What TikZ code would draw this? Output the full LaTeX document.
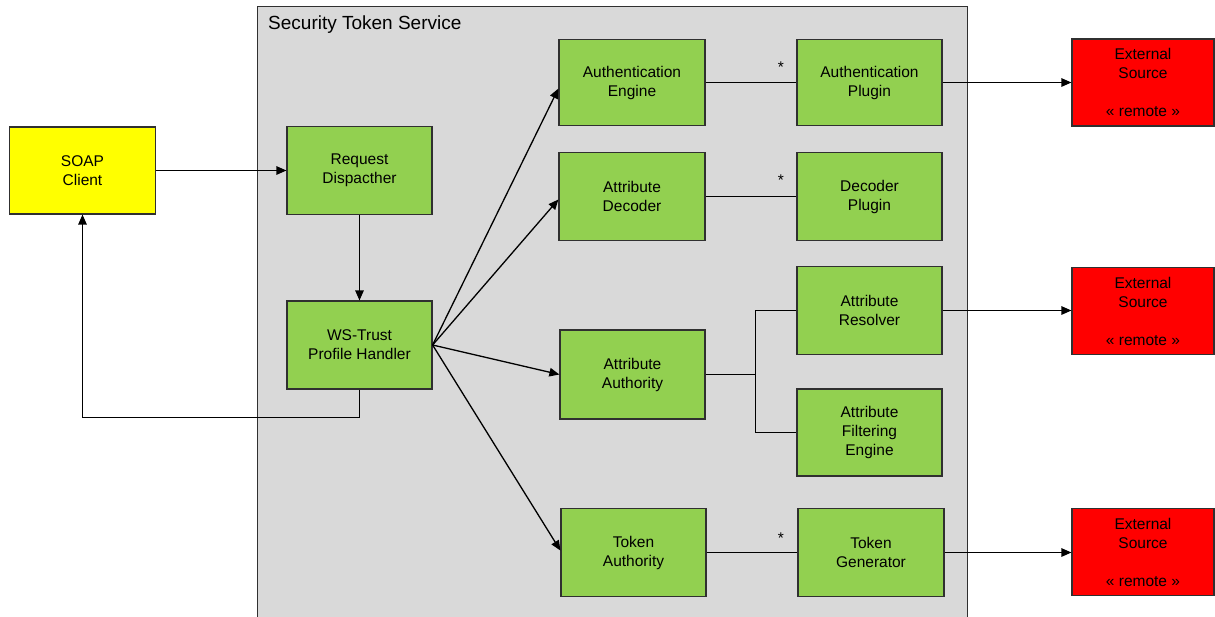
\documentclass[tikz,border=0pt]{standalone}
\usepackage{fontspec}
\setmainfont{Liberation Sans}
\usetikzlibrary{arrows.meta}
\definecolor{boxgreen}{HTML}{92D050}
\definecolor{boxyellow}{HTML}{FFFF00}
\definecolor{boxred}{HTML}{FF0000}
\definecolor{svcgray}{HTML}{D9D9D9}
\definecolor{edge}{HTML}{303030}
\tikzset{
  box/.style={draw=edge, line width=1.2pt, minimum width=145pt, minimum height=88pt,
    inner sep=0pt, align=center, font=\fontsize{15.5}{19}\selectfont},
  greenbox/.style={box, fill=boxgreen},
  yellowbox/.style={box, fill=boxyellow, minimum width=146pt, minimum height=87pt},
  redbox/.style={box, fill=boxred, minimum width=142pt, minimum height=87pt},
  conn/.style={draw=black, line width=1.3pt},
  arr/.style={conn, -{Triangle[length=10pt,width=8.5pt]}},
  mult/.style={inner sep=0pt, anchor=base, font=\fontsize{15.5}{19}\selectfont},
}
\begin{document}
\begin{tikzpicture}[x=1pt,y=-1pt]
\useasboundingbox (0,0) rectangle (1215,616);
\clip (0,0) rectangle (1215,616);
\fill[white] (0,0) rectangle (1215,616);
% container
\draw[fill=svcgray, draw=edge, line width=1.2pt] (257.5,6.5) rectangle (967.5,640);
\node[anchor=base west, inner sep=0pt, font=\fontsize{19}{22}\selectfont] (title) at (268,29) {Security Token Service};
% nodes
\node[yellowbox] (soap) at (82.5,170.5) {SOAP\\Client};
\node[greenbox] (req) at (359.5,170.5) {Request\\Dispacther};
\node[greenbox] (ws) at (359.5,345) {WS-Trust\\Profile Handler};
\node[greenbox, minimum width=146pt, minimum height=86pt] (ae) at (632,82.5) {Authentication\\Engine};
\node[greenbox, minimum width=146pt] (ad) at (632,196.5) {Attribute\\Decoder};
\node[greenbox, minimum height=89pt] (aa) at (632.5,374.5) {Attribute\\Authority};
\node[greenbox] (ta) at (633.5,552.5) {Token\\Authority};
\node[greenbox, minimum height=86pt] (ap) at (869.5,82.5) {Authentication\\Plugin};
\node[greenbox] (dp) at (869.5,196.5) {Decoder\\Plugin};
\node[greenbox] (ar) at (869.5,310.5) {Attribute\\Resolver};
\node[greenbox, minimum height=87pt] (afe) at (869.5,432.5) {Attribute\\Filtering\\Engine};
\node[greenbox, minimum width=146pt] (tg) at (871,552.5) {Token\\Generator};
\node[redbox] (ext1) at (1143,82.5) {External\\Source\\\mbox{}\\« remote »};
\node[redbox] (ext2) at (1143,311) {External\\Source\\\mbox{}\\« remote »};
\node[redbox] (ext3) at (1143,552) {External\\Source\\\mbox{}\\« remote »};
% connectors
\draw[arr] (soap.east) -- (req.west);
\draw[arr] (req.south) -- (ws.north);
\draw[arr] (ws.south) -- ++(0,28) -| (soap.south);
\draw[arr] (ws.east) -- ([yshift=-6pt]ae.west);
\draw[arr] (ws.east) -- ([yshift=-3pt]ad.west);
\draw[arr] (ws.east) -- (aa.west);
\draw[arr] (ws.east) -- ([yshift=2pt]ta.west);
\draw[conn] (ae.east) -- (ap.west);
\draw[conn] (ad.east) -- (dp.west);
\draw[conn] (ta.east) -- (tg.west);
\coordinate (j) at (755.5,374.5);
\draw[conn] (aa.east) -- (j);
\draw[conn] (ar.west) -| (j) |- (afe.west);
\draw[arr] (ap.east) -- (ext1.west |- ap.east);
\draw[arr] (ar.east) -- (ext2.west |- ar.east);
\draw[arr] (tg.east) -- (ext3.west |- tg.east);
% multiplicities
\node[mult] (m1) at (781,72) {*};
\node[mult] (m2) at (781,185) {*};
\node[mult] (m3) at (781,543) {*};
\end{tikzpicture}
\end{document}
